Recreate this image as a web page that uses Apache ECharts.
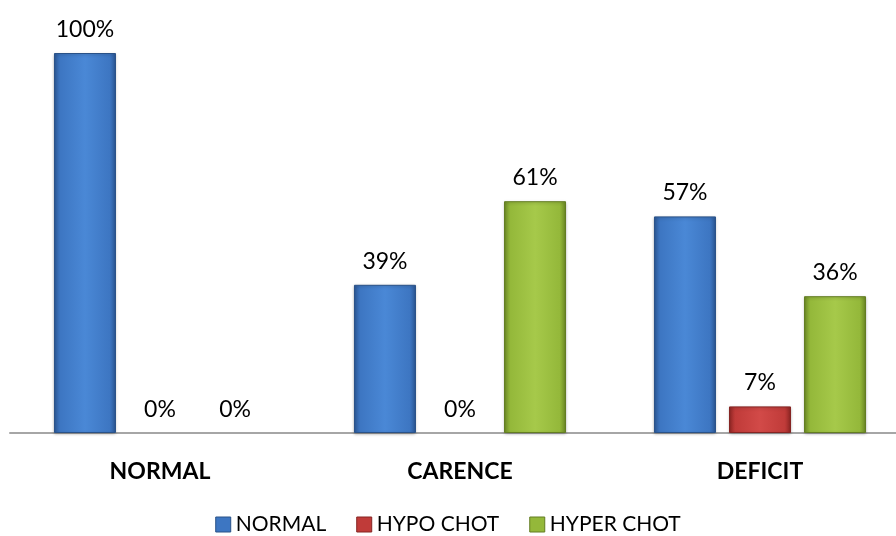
<!DOCTYPE html>
<html>
<head>
<meta charset="utf-8">
<script src="https://cdn.jsdelivr.net/npm/echarts@6/dist/echarts.min.js"></script>
<style>
  html, body { margin: 0; padding: 0; background: #fff; }
  #chart { width: 896px; height: 536px; }
</style>
</head>
<body>
<div id="chart"></div>
<script>
// Groups and shares (%) per group
const categories = ['NORMAL', 'CARENCE', 'DEFICIT'];
const seriesNames = ['NORMAL', 'HYPO CHOT', 'HYPER CHOT'];
const normalValues = [100, 39, 57];
const hypoValues = [0, 0, 7];
const hyperValues = [0, 61, 36];

const FONT = 'Lato, "Open Sans", "Liberation Sans", sans-serif';

// Bevelled bar look: horizontal gradient with darker edges
function bevel(light, mid, dark) {
  return new echarts.graphic.LinearGradient(0, 0, 1, 0, [
    { offset: 0, color: dark },
    { offset: 0.1, color: mid },
    { offset: 0.5, color: light },
    { offset: 0.9, color: mid },
    { offset: 1, color: dark }
  ]);
}

const palette = [
  { light: '#4a88d6', mid: '#3d76c2', dark: '#2c5896', border: '#2a5288' },
  { light: '#d24a48', mid: '#c03b39', dark: '#8f2624', border: '#862523' },
  { light: '#a6c94a', mid: '#94b83a', dark: '#6d8a26', border: '#637d22' }
];

const valueSets = [normalValues, hypoValues, hyperValues];

// Zero shares keep their label but draw no visible bar
const hidden = {
  color: 'transparent',
  borderColor: 'transparent',
  borderWidth: 0,
  shadowColor: 'transparent',
  shadowBlur: 0
};

const series = seriesNames.map((name, i) => ({
  name: name,
  type: 'bar',
  barWidth: 62,
  barGap: '21%',
  data: valueSets[i].map(v => (v === 0 ? { value: v, itemStyle: hidden } : v)),
  itemStyle: {
    color: bevel(palette[i].light, palette[i].mid, palette[i].dark),
    borderColor: palette[i].border,
    borderWidth: 1,
    shadowColor: 'rgba(0,0,0,0.25)',
    shadowBlur: 3,
    shadowOffsetY: 1
  },
  label: {
    show: true,
    position: 'top',
    distance: 12,
    formatter: '{c}%',
    color: '#000',
    fontSize: 23,
    fontFamily: FONT
  }
}));

const chart = echarts.init(document.getElementById('chart'), null, { renderer: 'canvas' });
chart.setOption({
  animation: false,
  color: palette.map(p => p.mid),
  grid: {
    left: 10, right: -14, top: 53, bottom: 103,
    containLabel: false,
    outerBoundsMode: 'none'
  },
  legend: {
    bottom: -4,
    left: 'center',
    itemWidth: 15,
    itemHeight: 15,
    itemGap: 30,
    icon: 'rect',
    textStyle: { fontSize: 21, fontFamily: FONT, color: '#000' },
    data: seriesNames.map((n, i) => ({
      name: n,
      itemStyle: { color: palette[i].mid, borderColor: palette[i].border, borderWidth: 1 }
    }))
  },
  xAxis: {
    type: 'category',
    data: categories,
    axisLine: { show: true, lineStyle: { color: '#a6a6a6', width: 2 } },
    axisTick: { show: false },
    axisLabel: {
      margin: 27,
      fontSize: 23,
      fontWeight: 'bold',
      fontFamily: FONT,
      color: '#000'
    }
  },
  yAxis: {
    type: 'value',
    min: 0,
    max: 100,
    show: false,
    splitLine: { show: false }
  },
  series: series
});
</script>
</body>
</html>
